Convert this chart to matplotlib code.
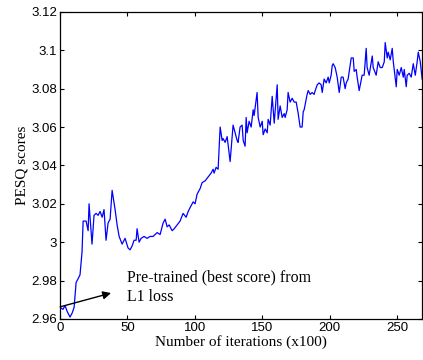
import numpy as np
import matplotlib
matplotlib.use('Agg')
import matplotlib.pyplot as plt

# iterations (x100) and PESQ scores
iters = [0, 2.2, 3.7, 5.2, 7.4, 8.9, 10.4, 11.9, 13.4, 14.8, 16.3, 17.1, 19.3, 20.8, 21.5,
         23.7, 25.2, 26.7, 28.2, 29.7, 31.2, 32.6, 34.1, 35.6, 37.1, 38.6, 40.8, 42.3, 43.8,
         46.0, 48.2, 50.4, 51.9, 53.4, 54.9, 56.4, 57.1, 58.6, 60.1, 62.3, 64.5, 66.8, 69.0,
         72.0, 74.2, 75.7, 76.4, 77.9, 79.4, 80.9, 83.1, 84.6, 86.8, 89.0, 91.2, 93.5, 95.0,
         96.4, 98.7, 100.1, 101.6, 103.9, 105.3, 107.6, 109.8, 112.0, 113.5, 114.2, 115.7,
         117.2, 118.7, 120.2, 120.9, 122.4, 123.9, 126.1, 127.6, 128.3, 129.8, 131.3, 132.0,
         133.5, 135.0, 135.8, 137.2, 138.0, 138.7, 140.2, 141.7, 143.2, 143.9, 146.1, 146.9,
         148.4, 149.9, 150.6, 152.1, 153.6, 154.3, 155.8, 157.3, 158.8, 161.0, 161.7, 163.2,
         164.7, 166.2, 166.9, 168.4, 169.1, 170.6, 172.1, 173.6, 175.1, 176.6, 178.0, 179.5,
         180.3, 181.0, 183.2, 184.0, 185.5, 186.9, 188.4, 189.2, 190.7, 192.1, 193.6, 194.4,
         195.8, 197.3, 198.8, 199.6, 201.0, 201.8, 202.5, 204.0, 205.5, 207.0, 208.5, 209.9,
         211.4, 212.2, 213.6, 215.9, 217.4, 218.1, 219.6, 220.3, 221.8, 224.0, 225.5, 227.0,
         227.7, 229.2, 231.5, 232.2, 234.4, 235.9, 237.4, 238.9, 240.4, 241.1, 242.6, 243.3,
         244.8, 246.3, 247.1, 249.3, 250.0, 251.5, 253.0, 254.5, 255.2, 256.7, 257.4, 258.9,
         260.4, 261.9, 263.4, 264.8, 265.6, 267.1, 268.5]
pesq = [2.966, 2.965, 2.967, 2.964, 2.961, 2.963, 2.966, 2.979, 2.981, 2.983, 2.995, 3.011,
        3.011, 3.006, 3.020, 2.999, 3.014, 3.015, 3.014, 3.016, 3.013, 3.017, 3.001, 3.010,
        3.012, 3.027, 3.017, 3.009, 3.003, 2.999, 3.002, 2.997, 2.996, 2.998, 3.001, 3.001,
        3.007, 3.000, 3.002, 3.003, 3.002, 3.003, 3.003, 3.005, 3.004, 3.008, 3.010, 3.012,
        3.008, 3.009, 3.006, 3.007, 3.009, 3.011, 3.015, 3.013, 3.016, 3.018, 3.021, 3.020,
        3.025, 3.028, 3.031, 3.032, 3.034, 3.036, 3.038, 3.036, 3.039, 3.038, 3.060, 3.053,
        3.054, 3.052, 3.055, 3.042, 3.055, 3.061, 3.057, 3.053, 3.052, 3.060, 3.061, 3.053,
        3.050, 3.065, 3.057, 3.063, 3.060, 3.069, 3.066, 3.078, 3.065, 3.060, 3.063, 3.056,
        3.059, 3.057, 3.064, 3.061, 3.076, 3.062, 3.082, 3.064, 3.071, 3.065, 3.067, 3.065,
        3.069, 3.078, 3.073, 3.075, 3.073, 3.073, 3.067, 3.060, 3.060, 3.068, 3.069, 3.077,
        3.079, 3.077, 3.078, 3.077, 3.079, 3.082, 3.083, 3.082, 3.078, 3.085, 3.083, 3.086,
        3.083, 3.087, 3.092, 3.093, 3.091, 3.086, 3.078, 3.086, 3.086, 3.080, 3.083, 3.085,
        3.096, 3.096, 3.089, 3.090, 3.086, 3.079, 3.087, 3.087, 3.101, 3.091, 3.087, 3.097,
        3.091, 3.087, 3.094, 3.091, 3.091, 3.094, 3.104, 3.096, 3.099, 3.095, 3.101, 3.094,
        3.081, 3.090, 3.087, 3.091, 3.086, 3.090, 3.081, 3.087, 3.088, 3.086, 3.093, 3.087,
        3.094, 3.099, 3.094, 3.085]

x_ticks = [0, 50, 100, 150, 200, 250]
y_ticks = [2.96, 2.98, 3.0, 3.02, 3.04, 3.06, 3.08, 3.1, 3.12]
y_tick_labels = ['2.96', '2.98', '3', '3.02', '3.04', '3.06', '3.08', '3.1', '3.12']

serif = ['Liberation Serif', 'DejaVu Serif']
sans = ['Liberation Sans', 'DejaVu Sans']

fig = plt.figure(figsize=(4.23, 3.6), dpi=100)
ax = fig.add_axes([0.142, 0.114, 0.856, 0.853])

ax.plot(iters, pesq, color='#0000ff', linewidth=0.9)

ax.set_xlim(0, 268.5)
ax.set_ylim(2.96, 3.12)
ax.set_xticks(x_ticks)
ax.set_xticklabels([str(t) for t in x_ticks], family=sans, fontsize=9.5)
ax.set_yticks(y_ticks)
ax.set_yticklabels(y_tick_labels, family=sans, fontsize=9.5)
ax.tick_params(direction='in', length=3, width=0.8, top=True, right=True, pad=2)
for s in ax.spines.values():
    s.set_linewidth(0.9)

ax.set_xlabel('Number of iterations (x100)', family=serif, fontsize=11, labelpad=1)
ax.set_ylabel('PESQ scores', family=serif, fontsize=11, labelpad=2)

ax.annotate('', xy=(37.8, 2.9735), xytext=(0, 2.9663),
            arrowprops=dict(arrowstyle='-|>', color='black', lw=1.0,
                            mutation_scale=12, shrinkA=0, shrinkB=0))
ax.text(49.5, 2.9766, 'Pre-trained (best score) from\nL1 loss', family=serif,
        fontsize=11.4, ha='left', va='center', linespacing=1.25)

fig.savefig('out.png', dpi=100)
